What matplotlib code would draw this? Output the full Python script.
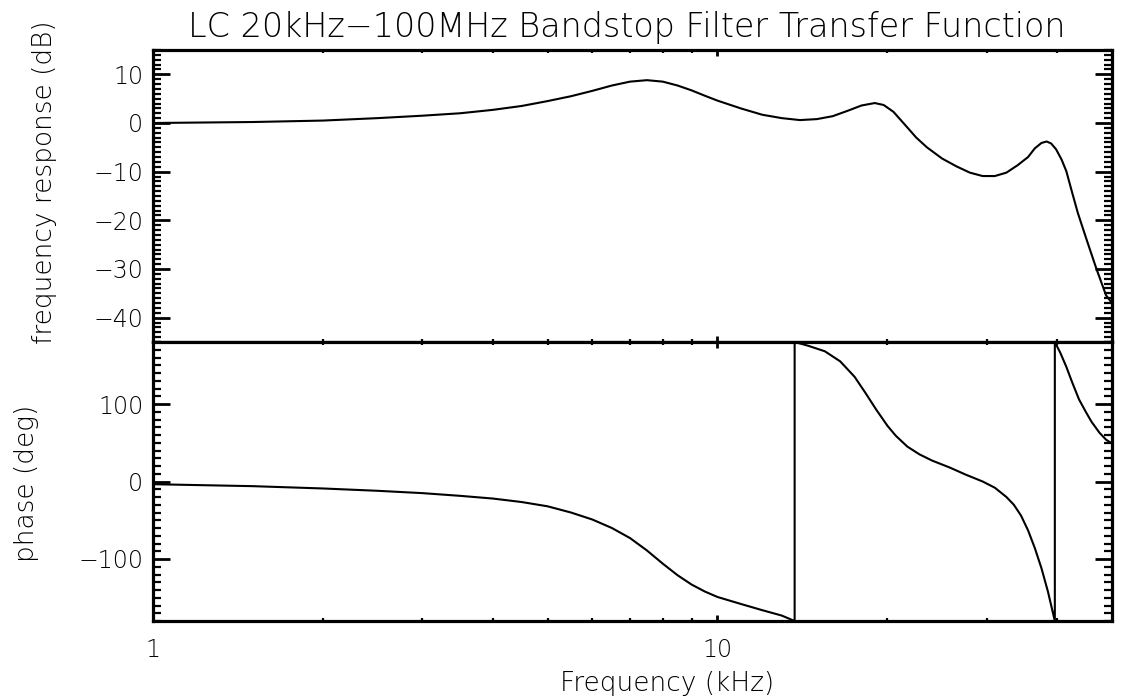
import numpy as np
import matplotlib
matplotlib.use("Agg")
import matplotlib.pyplot as plt
from matplotlib.ticker import MultipleLocator, FixedLocator, NullFormatter, FixedFormatter

# ---- data ----
freq_mag = [1.0, 1.5, 2.0, 2.5, 3.0, 3.5, 4.0, 4.5, 5.0, 5.5, 6.0, 6.5, 7.0, 7.5,
            8.0, 8.5, 9.0, 9.5, 10.0, 11.0, 12.0, 13.0, 14.0, 15.0, 16.0, 17.0,
            18.0, 19.0, 19.7, 20.5, 21.5, 22.5, 23.5, 25.0, 26.5, 28.0, 29.5, 31.0,
            32.5, 34.0, 35.5, 36.5, 37.5, 38.3, 39.0, 39.8, 40.7, 41.5, 42.5, 43.5,
            45.0, 46.9, 48.8, 50.0]
mag_db = [0.0, 0.2, 0.5, 1.0, 1.5, 2.0, 2.7, 3.5, 4.5, 5.5, 6.6, 7.7, 8.5, 8.8,
          8.5, 7.7, 6.7, 5.6, 4.6, 3.0, 1.7, 1.0, 0.6, 0.8, 1.4, 2.5,
          3.6, 4.1, 3.7, 2.3, -0.4, -3.0, -5.0, -7.3, -8.9, -10.2, -10.9, -10.9,
          -10.2, -8.7, -7.0, -5.2, -4.1, -3.8, -4.2, -5.4, -7.5, -9.9, -14.3, -18.5,
          -23.7, -29.9, -35.4, -37.0]

freq_ph = [1.0, 1.5, 2.0, 2.5, 3.0, 3.5, 4.0, 4.5, 5.0, 5.5, 6.0, 6.5, 7.0, 7.5,
           8.0, 8.5, 9.0, 9.5, 10.0, 11.0, 12.0, 13.0, 13.7, 13.7, 14.5, 15.5,
           16.5, 17.5, 18.3, 19.1, 20.0, 20.7, 21.7, 22.8, 24.0, 25.8, 27.5, 29.5,
           31.0, 32.5, 33.5, 34.5, 35.5, 36.5, 37.5, 38.5, 39.6, 39.6, 40.5, 41.5,
           42.5, 43.7, 45.0, 46.0, 47.5, 48.8, 50.0]
phase_deg = [-3.5, -6, -9, -12, -15, -18.5, -22, -26.5, -32, -40, -49, -60, -73, -89,
             -106, -121, -133, -142, -149, -158, -166, -173, -180, 180, 175, 168,
             155, 135, 114, 93, 72, 59, 45, 35, 27, 18, 9, 0,
             -8, -20, -30, -44, -63, -86, -112, -142, -180, 180, 166, 148,
             128, 106, 89, 77, 63, 54, 49]

title = "LC 20kHz\u2212100MHz Bandstop Filter Transfer Function"
ylabel_top = "frequency response (dB)"
ylabel_bot = "phase (deg)"
xlabel = "Frequency (kHz)"
xtick_vals = [1, 10]
xtick_labels = ["1", "10"]

plt.rcParams['font.family'] = ['DejaVu Sans']
plt.rcParams['font.weight'] = 'light'
W, H = 1142, 696
fig = plt.figure(figsize=(W / 100, H / 100), dpi=100)

L = 153 / W
Wd = (1112 - 153) / W
ax1 = fig.add_axes([L, 1 - 342 / H, Wd, (342 - 50) / H])
ax2 = fig.add_axes([L, 1 - 621 / H, Wd, (621 - 342) / H])

ax1.plot(freq_mag, mag_db, color='black', lw=1.5)
ax2.plot(freq_ph, phase_deg, color='black', lw=1.5)

for ax in (ax1, ax2):
    ax.set_xscale('log')
    ax.set_xlim(1, 50)
    ax.xaxis.set_major_locator(FixedLocator(xtick_vals))
    ax.xaxis.set_minor_locator(FixedLocator([2, 3, 4, 5, 6, 7, 8, 9, 20, 30, 40]))
    ax.xaxis.set_minor_formatter(NullFormatter())
    for s in ax.spines.values():
        s.set_linewidth(2.3)
    ax.tick_params(axis='both', which='both', direction='in', top=True, right=True,
                   labelsize=17, colors='black')
    ax.tick_params(axis='y', which='major', length=12, width=2.0, pad=7)
    ax.tick_params(axis='y', which='minor', length=6, width=1.6)
    ax.tick_params(axis='x', which='major', length=4, width=2.0, pad=12)
    ax.tick_params(axis='x', which='minor', length=2, width=1.6)

ax1.set_ylim(-45, 15)
ax1.yaxis.set_major_locator(MultipleLocator(10))
ax1.yaxis.set_minor_locator(MultipleLocator(1))
ax1.xaxis.set_major_formatter(NullFormatter())

ax2.set_ylim(-180, 180)
ax2.yaxis.set_major_locator(MultipleLocator(100))
ax2.yaxis.set_minor_locator(MultipleLocator(10))
ax2.xaxis.set_major_formatter(FixedFormatter(xtick_labels))

fig.text(627 / W, 1 - 28 / H, title, ha='center', va='center', fontsize=24)
fig.text(45 / W, 1 - 182 / H, ylabel_top, rotation=90, ha='center', va='center', fontsize=19)
fig.text(27 / W, 1 - 483 / H, ylabel_bot, rotation=90, ha='center', va='center', fontsize=19)
fig.text(667 / W, 1 - 683 / H, xlabel, ha='center', va='center', fontsize=19)

fig.savefig('out.png', dpi=100, facecolor='white')
